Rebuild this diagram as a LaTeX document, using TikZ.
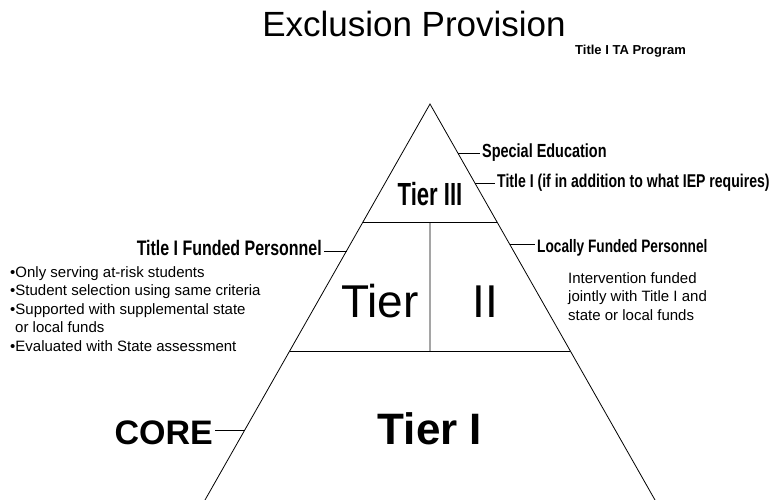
\documentclass[tikz,border=0pt]{standalone}
\usepackage{fontspec}
\setmainfont{Liberation Sans}
\newfontfamily\condfont[FakeStretch=0.76]{Liberation Sans}
\newfontfamily\narrowfont[FakeStretch=0.69]{Liberation Sans}
\usetikzlibrary{calc}

\begin{document}
\begin{tikzpicture}[x=1pt,y=-1pt,
  side/.style={draw,line width=0.8pt},
  tick/.style={draw,line width=0.6pt},
  cond/.style={inner sep=2pt,font=\condfont\bfseries\fontsize{#1}{#1}\selectfont},
  plain/.style={inner sep=0pt,align=left,font=\fontsize{15}{18.5}\selectfont}]

\useasboundingbox (0,0) rectangle (769,500);

% pyramid
\coordinate (apex) at (430,104);
\coordinate (bl) at (205,500);
\coordinate (br) at (655,500);
\coordinate (l3) at ($(apex)!0.298!(bl)$);
\coordinate (r3) at ($(apex)!0.298!(br)$);
\coordinate (l2) at ($(apex)!0.6237!(bl)$);
\coordinate (r2) at ($(apex)!0.6237!(br)$);
\coordinate (m3) at ($(l3)!0.5!(r3)$);
\coordinate (m2) at ($(l2)!0.5!(r2)$);
\path[side] (bl) -- (apex) -- (br);
\path[side] (l3) -- (r3);
\path[side] (l2) -- (r2);
\path[side] (m3) -- (m2);

\node[anchor=base, inner sep=0pt, font=\fontsize{35}{35}\selectfont] (title) at (414,37) {Exclusion Provision};
\node[anchor=base west, inner sep=0pt, font=\bfseries\fontsize{13}{13}\selectfont] (prog) at (575,55) {Title I TA Program};

\node[anchor=base, inner sep=0pt, font=\narrowfont\bfseries\fontsize{32}{32}\selectfont] (tier3) at (430,205) {Tier III};
\node[anchor=base, inner sep=0pt, font=\fontsize{46}{46}\selectfont] (tier2a) at (380,317) {Tier};
\node[anchor=base, inner sep=0pt, font=\fontsize{46}{46}\selectfont] (tier2b) at (485,317) {II};
\node[anchor=base, inner sep=0pt, font=\bfseries\fontsize{44}{44}\selectfont] (tier1) at (430,444) {Tier I};

\node[cond=19, anchor=base west] (sped) at (480,158) {Special Education};
\node[cond=18.5, anchor=base west] (titleif) at (495,188) {Title I (if in addition to what IEP requires)};
\node[cond=21, anchor=base east] (funded) at (324,255) {Title I Funded Personnel};
\node[cond=18, anchor=base west] (local) at (535,252) {Locally Funded Personnel};
\node[anchor=base east, inner sep=2pt, font=\bfseries\fontsize{34}{34}\selectfont] (core) at (215,444) {CORE};

\node[plain, anchor=north west] (crit) at (10,266) {•Only serving at-risk students\\
•Student selection using same criteria\\
•Supported with supplemental state\\
\hspace*{5pt}or local funds\\
•Evaluated with State assessment};
\node[plain, anchor=north west] (joint) at (568,272) {Intervention funded\\
jointly with Title I and\\
state or local funds};

% ticks
\coordinate (tsped) at ($(apex)!0.124!(br)$);
\coordinate (tif) at ($(apex)!0.1995!(br)$);
\coordinate (tlocal) at ($(apex)!0.3535!(br)$);
\coordinate (tfunded) at ($(apex)!0.371!(bl)$);
\coordinate (tcore) at ($(apex)!0.823!(bl)$);
\path[tick] (tsped) -- (tsped -| sped.west);
\path[tick] (tif) -- (tif -| titleif.west);
\path[tick] (tlocal) -- (tlocal -| local.west);
\path[tick] (tfunded) -- (tfunded -| funded.east);
\path[tick] (tcore) -- (tcore -| core.east);
\end{tikzpicture}
\end{document}
